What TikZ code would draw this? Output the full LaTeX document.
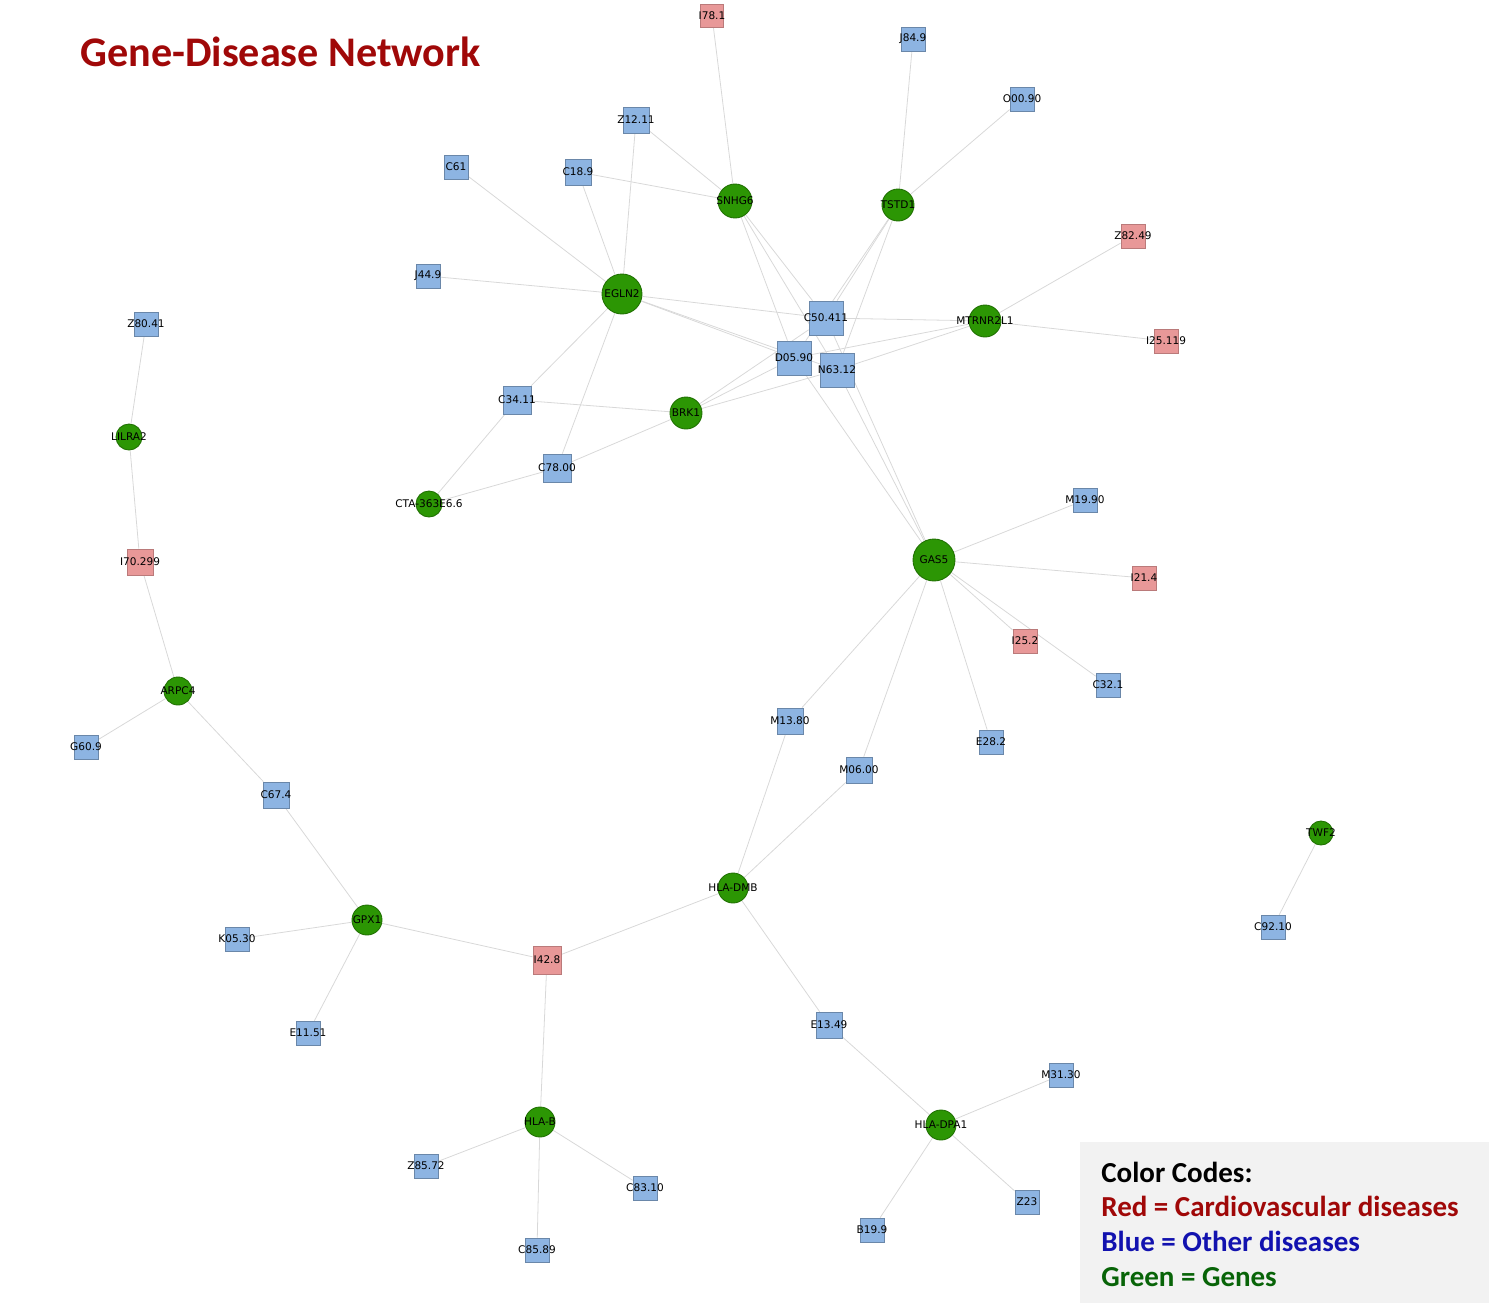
\documentclass[tikz,border=0pt]{standalone}
\usepackage{fontspec}
\usetikzlibrary{backgrounds}
\newfontfamily\nodefont{DejaVu Sans}
\newfontfamily\headfont{Carlito}
\definecolor{disblue}{RGB}{141,180,226}
\definecolor{disred}{RGB}{232,152,152}
\definecolor{genegreen}{RGB}{44,150,4}
\definecolor{edgegray}{RGB}{216,216,216}
\definecolor{titlered}{RGB}{160,8,8}
\definecolor{legblue}{RGB}{18,18,175}
\definecolor{leggreen}{RGB}{8,100,8}
\definecolor{legback}{RGB}{242,242,242}

\begin{document}
\begin{tikzpicture}[x=0.02cm,y=-0.02cm,
  gene/.style={circle,fill=genegreen,draw=genegreen!75!black,line width=0.5pt,minimum size=#1*0.02cm,inner sep=0pt},
  other/.style={rectangle,fill=disblue,draw=disblue!75!black,line width=0.4pt,minimum size=#1*0.02cm,inner sep=0pt},
  cardio/.style={rectangle,fill=disred,draw=disred!80!black,line width=0.4pt,minimum size=#1*0.02cm,inner sep=0pt},
  link/.style={edgegray,line width=0.45pt},
  legline/.style={anchor=base west,font=\headfont\bfseries\fontsize{16.5}{20}\selectfont,inner sep=0pt},
  every label/.style={font=\nodefont\fontsize{6}{7}\selectfont,inner sep=0pt,text=black}]
\useasboundingbox (0,0) rectangle (1499,1303);
\fill [legback] (1080,1142) rectangle (1489,1303);
\node [anchor=base west,inner sep=0pt,text=titlered,font=\headfont\bfseries\fontsize{24}{28}\selectfont] (title) at (80,66) {Gene-Disease Network};
\node [legline] (leg0) at (1101,1182) {Color Codes:};
\node [legline,text=titlered] (leg1) at (1101,1216) {Red = Cardiovascular diseases};
\node [legline,text=legblue] (leg2) at (1101,1251) {Blue = Other diseases};
\node [legline,text=leggreen] (leg3) at (1101,1286) {Green = Genes};

\node [cardio=23,label=center:I78.1] (i781) at (712,16) {};
\node [other=24,label=center:J84.9] (j849) at (913,39) {};
\node [other=24,label=center:O00.90] (o0090) at (1022,99) {};
\node [other=26,label=center:Z12.11] (z1211) at (636,120) {};
\node [other=24,label=center:C61] (c61) at (456,167) {};
\node [other=26,label=center:C18.9] (c189) at (578,172) {};
\node [cardio=24,label=center:Z82.49] (z8249) at (1133,236) {};
\node [other=24,label=center:J44.9] (j449) at (428,276) {};
\node [other=24,label=center:Z80.41] (z8041) at (146,324) {};
\node [other=34,label=center:C50.411] (c50) at (826,318) {};
\node [other=34,label=center:D05.90] (d05) at (794,358) {};
\node [other=34,label=center:N63.12] (n63) at (837,370) {};
\node [cardio=24,label=center:I25.119] (i25119) at (1166,341) {};
\node [other=28,label=center:C34.11] (c3411) at (517,400) {};
\node [other=28,label=center:C78.00] (c7800) at (557,468) {};
\node [other=24,label=center:M19.90] (m1990) at (1085,500) {};
\node [cardio=26,label=center:I70.299] (i70299) at (140,562) {};
\node [cardio=24,label=center:I21.4] (i214) at (1144,578) {};
\node [cardio=24,label=center:I25.2] (i252) at (1025,641) {};
\node [other=24,label=center:C32.1] (c321) at (1108,685) {};
\node [other=24,label=center:G60.9] (g609) at (86,747) {};
\node [other=26,label=center:M13.80] (m1380) at (790,721) {};
\node [other=24,label=center:E28.2] (e282) at (991,742) {};
\node [other=26,label=center:M06.00] (m0600) at (859,770) {};
\node [other=26,label=center:C67.4] (c674) at (276,795) {};
\node [other=24,label=center:C92.10] (c9210) at (1273,927) {};
\node [other=24,label=center:K05.30] (k0530) at (237,939) {};
\node [cardio=28,label=center:I42.8] (i428) at (547,960) {};
\node [other=24,label=center:E11.51] (e1151) at (308,1033) {};
\node [other=26,label=center:E13.49] (e1349) at (829,1025) {};
\node [other=24,label=center:M31.30] (m3130) at (1061,1075) {};
\node [other=24,label=center:Z85.72] (z8572) at (426,1166) {};
\node [other=24,label=center:C83.10] (c8310) at (645,1188) {};
\node [other=24,label=center:Z23] (z23) at (1027,1202) {};
\node [other=24,label=center:B19.9] (b199) at (872,1230) {};
\node [other=24,label=center:C85.89] (c8589) at (537,1250) {};

\node [gene=34,label=center:SNHG6] (snhg6) at (735,201) {};
\node [gene=32,label=center:TSTD1] (tstd1) at (898,205) {};
\node [gene=40,label=center:EGLN2] (egln2) at (622,294) {};
\node [gene=32,label=center:MTRNR2L1] (mtrnr) at (985,321) {};
\node [gene=32,label=center:BRK1] (brk1) at (686,413) {};
\node [gene=26,label=center:LILRA2] (lilra2) at (129,437) {};
\node [gene=26,label=center:CTA-363E6.6] (cta) at (429,504) {};
\node [gene=42,label=center:GAS5] (gas5) at (934,560) {};
\node [gene=28,label=center:ARPC4] (arpc4) at (178,691) {};
\node [gene=24,label=center:TWF2] (twf2) at (1321,833) {};
\node [gene=30,label=center:HLA-DMB] (hladmb) at (733,888) {};
\node [gene=30,label=center:GPX1] (gpx1) at (367,920) {};
\node [gene=30,label=center:HLA-B] (hlab) at (540,1122) {};
\node [gene=30,label=center:HLA-DPA1] (hladpa) at (941,1125) {};

\begin{scope}[on background layer]
\foreach \g/\dl in {egln2/{c61,j449,c189,z1211,c50,d05,n63,c3411,c7800},
  snhg6/{i781,z1211,c189,c50,d05,n63},
  tstd1/{j849,o0090,c50,d05,n63},
  mtrnr/{c50,d05,n63,z8249,i25119},
  brk1/{c50,d05,n63,c3411,c7800},
  gas5/{c50,d05,n63,m1990,i214,i252,c321,e282,m0600,m1380},
  cta/{c3411,c7800},
  lilra2/{z8041,i70299},
  arpc4/{i70299,g609,c674},
  gpx1/{c674,k0530,e1151,i428},
  hladmb/{m1380,m0600,i428,e1349},
  hlab/{i428,z8572,c8310,c8589},
  hladpa/{e1349,m3130,z23,b199},
  twf2/{c9210}}
  \foreach \d in \dl
    \draw [link] (\g) -- (\d);
\end{scope}
\end{tikzpicture}
\end{document}
